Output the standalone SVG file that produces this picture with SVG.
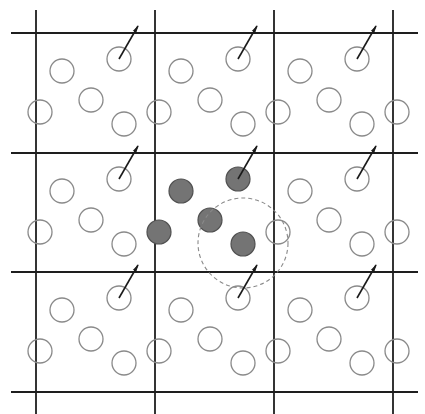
<svg xmlns="http://www.w3.org/2000/svg" width="425" height="414" viewBox="0 0 425 414">
<style>
.grid line{stroke:#1e1e1e;stroke-width:1.8}
.o{fill:none;stroke:#8a8a8a;stroke-width:1.3}
.f{fill:#747474;stroke:#505050;stroke-width:1.2}
.v{stroke:#1a1a1a;stroke-width:1.6;marker-end:url(#ah)}
.d{fill:none;stroke:#8a8a8a;stroke-width:1.1;stroke-dasharray:4 3}
</style>
<defs>
<marker id="ah" markerUnits="userSpaceOnUse" markerWidth="8" markerHeight="5" refX="7" refY="2.5" orient="auto">
<path d="M0,0.5 L8,2.5 L0,4.5 z" fill="#1a1a1a"/>
</marker>
</defs>
<rect width="425" height="414" fill="#fff"/>
<g class="grid" id="grid">
<line x1="36" y1="10" x2="36" y2="414"/>
<line x1="155" y1="10" x2="155" y2="414"/>
<line x1="274" y1="10" x2="274" y2="414"/>
<line x1="393" y1="10" x2="393" y2="414"/>
<line x1="11" y1="33" x2="418" y2="33"/>
<line x1="11" y1="153" x2="418" y2="153"/>
<line x1="11" y1="272" x2="418" y2="272"/>
<line x1="11" y1="392" x2="418" y2="392"/>
</g>
<g id="cell-1-1"><circle class="o" cx="119" cy="59" r="12"/><circle class="o" cx="62" cy="71" r="12"/><circle class="o" cx="91" cy="100" r="12"/><circle class="o" cx="40" cy="112" r="12"/><circle class="o" cx="124" cy="124" r="12"/></g>
<g id="cell-1-2"><circle class="o" cx="238" cy="59" r="12"/><circle class="o" cx="181" cy="71" r="12"/><circle class="o" cx="210" cy="100" r="12"/><circle class="o" cx="159" cy="112" r="12"/><circle class="o" cx="243" cy="124" r="12"/></g>
<g id="cell-1-3"><circle class="o" cx="357" cy="59" r="12"/><circle class="o" cx="300" cy="71" r="12"/><circle class="o" cx="329" cy="100" r="12"/><circle class="o" cx="278" cy="112" r="12"/><circle class="o" cx="362" cy="124" r="12"/><circle class="o" cx="397" cy="112" r="12"/></g>
<g id="cell-2-1"><circle class="o" cx="119" cy="179" r="12"/><circle class="o" cx="62" cy="191" r="12"/><circle class="o" cx="91" cy="220" r="12"/><circle class="o" cx="40" cy="232" r="12"/><circle class="o" cx="124" cy="244" r="12"/></g>
<g id="cell-2-2"><circle class="f" cx="238" cy="179" r="12"/><circle class="f" cx="181" cy="191" r="12"/><circle class="f" cx="210" cy="220" r="12"/><circle class="f" cx="159" cy="232" r="12"/><circle class="f" cx="243" cy="244" r="12"/><circle class="d" cx="243" cy="243" r="45"/></g>
<g id="cell-2-3"><circle class="o" cx="357" cy="179" r="12"/><circle class="o" cx="300" cy="191" r="12"/><circle class="o" cx="329" cy="220" r="12"/><circle class="o" cx="278" cy="232" r="12"/><circle class="o" cx="362" cy="244" r="12"/><circle class="o" cx="397" cy="232" r="12"/></g>
<g id="cell-3-1"><circle class="o" cx="119" cy="298" r="12"/><circle class="o" cx="62" cy="310" r="12"/><circle class="o" cx="91" cy="339" r="12"/><circle class="o" cx="40" cy="351" r="12"/><circle class="o" cx="124" cy="363" r="12"/></g>
<g id="cell-3-2"><circle class="o" cx="238" cy="298" r="12"/><circle class="o" cx="181" cy="310" r="12"/><circle class="o" cx="210" cy="339" r="12"/><circle class="o" cx="159" cy="351" r="12"/><circle class="o" cx="243" cy="363" r="12"/></g>
<g id="cell-3-3"><circle class="o" cx="357" cy="298" r="12"/><circle class="o" cx="300" cy="310" r="12"/><circle class="o" cx="329" cy="339" r="12"/><circle class="o" cx="278" cy="351" r="12"/><circle class="o" cx="362" cy="363" r="12"/><circle class="o" cx="397" cy="351" r="12"/></g>
<g id="arrows">
<line class="v" x1="119" y1="59" x2="138" y2="26"/>
<line class="v" x1="238" y1="59" x2="257" y2="26"/>
<line class="v" x1="357" y1="59" x2="376" y2="26"/>
<line class="v" x1="119" y1="179" x2="138" y2="146"/>
<line class="v" x1="238" y1="179" x2="257" y2="146"/>
<line class="v" x1="357" y1="179" x2="376" y2="146"/>
<line class="v" x1="119" y1="298" x2="138" y2="265"/>
<line class="v" x1="238" y1="298" x2="257" y2="265"/>
<line class="v" x1="357" y1="298" x2="376" y2="265"/>
</g>
</svg>
